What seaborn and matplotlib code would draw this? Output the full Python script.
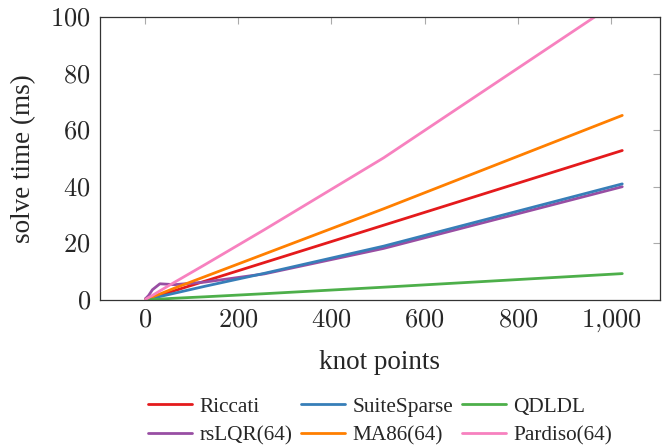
import numpy as np
import pandas as pd
import matplotlib
matplotlib.use("Agg")
import matplotlib.pyplot as plt
import seaborn as sns

# knot points and solve times (ms)
knots = [1, 2, 4, 8, 16, 32, 64, 128, 256, 512, 1024]
riccati = [0.05, 0.1, 0.2, 0.4, 0.8, 1.6, 3.3, 6.6, 13.2, 26.4, 52.8]
suitesparse = [0.05, 0.08, 0.15, 0.3, 0.6, 1.2, 2.4, 4.8, 9.4, 19.0, 41.0]
qdldl = [0.01, 0.02, 0.04, 0.07, 0.15, 0.3, 0.6, 1.1, 2.2, 4.5, 9.3]
rslqr = [0.5, 0.6, 0.9, 1.6, 3.6, 5.7, 5.4, 6.3, 9.2, 18.2, 40.0]
ma86 = [0.1, 0.15, 0.3, 0.55, 1.1, 2.1, 4.2, 8.2, 16.2, 32.2, 65.2]
pardiso = [0.15, 0.25, 0.45, 0.85, 1.6, 3.2, 6.3, 12.4, 24.8, 50.2, 106.5]

x_ticks = [0, 200, 400, 600, 800, 1000]
x_ticklabels = ["$0$", "$200$", "$400$", "$600$", "$800$", "$1{,}000$"]
y_ticks = [0, 20, 40, 60, 80, 100]

# legend is filled column by column, so this gives rows
# Riccati / SuiteSparse / QDLDL and rsLQR(64) / MA86(64) / Pardiso(64)
order = ["Riccati", "rsLQR(64)", "SuiteSparse", "MA86(64)", "QDLDL", "Pardiso(64)"]
series = {
    "Riccati": riccati,
    "SuiteSparse": suitesparse,
    "QDLDL": qdldl,
    "rsLQR(64)": rslqr,
    "MA86(64)": ma86,
    "Pardiso(64)": pardiso,
}
colors = {
    "Riccati": "#e41a1c",
    "SuiteSparse": "#377eb8",
    "QDLDL": "#4daf4a",
    "rsLQR(64)": "#984ea3",
    "MA86(64)": "#ff7f00",
    "Pardiso(64)": "#f781bf",
}

df = pd.concat(
    [pd.DataFrame({"knots": knots, "time": vals, "solver": name}) for name, vals in series.items()],
    ignore_index=True,
)

sns.set_style("white")
plt.rcParams["font.family"] = ["Liberation Serif", "DejaVu Serif"]
plt.rcParams["mathtext.fontset"] = "cm"

fig = plt.figure(figsize=(6.65, 4.45), dpi=100)
ax = fig.add_axes([0.150, 0.326, 0.8425, 0.636])

sns.lineplot(data=df, x="knots", y="time", hue="solver", hue_order=order,
             palette=colors, linewidth=2, ax=ax, legend=True)

ax.set_xlim(-97, 1105)
ax.set_ylim(0, 100)
ax.set_xticks(x_ticks)
ax.set_xticklabels(x_ticklabels)
ax.set_yticks(y_ticks)
ax.set_yticklabels([f"${v}$" for v in y_ticks])
ax.tick_params(direction="in", length=5, color="#aaaaaa", labelsize=19,
               top=True, right=True)
ax.tick_params(axis="y", pad=6.5)
# put x tick labels on a common baseline (the comma in 1,000 has a descender)
ax.tick_params(axis="x", pad=19)
for t in ax.get_xticklabels():
    t.set_va("baseline")
for s in ax.spines.values():
    s.set_color("#333333")
    s.set_linewidth(0.9)

ax.set_xlabel("knot points", fontsize=19.5, labelpad=12)
ax.set_ylabel("solve time (ms)", fontsize=19.5, labelpad=10)

handles, labels = ax.get_legend_handles_labels()
ax.legend(handles, labels, ncol=3, loc="upper center", bbox_to_anchor=(0.5, -0.275),
          frameon=False, fontsize=15.3, handlelength=2.07, columnspacing=0.4,
          handletextpad=0.35, labelspacing=0.42)

fig.savefig("out.png", dpi=100)
